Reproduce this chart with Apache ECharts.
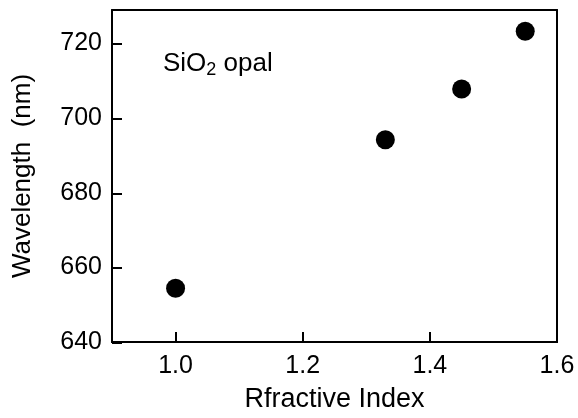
<!DOCTYPE html>
<html>
<head>
<meta charset="utf-8">
<script src="https://cdn.jsdelivr.net/npm/echarts@6/dist/echarts.min.js"></script>
<style>html,body{margin:0;padding:0;background:#fff}#c{width:578px;height:418px}</style>
</head>
<body>
<div id="c"></div>
<script>
var refractiveIndex = [1.0, 1.33, 1.45, 1.55];
var wavelength = [654.4, 694.2, 707.8, 723.3];
var xTicks = [1.0, 1.2, 1.4, 1.6];
var yTicks = [640, 660, 680, 700, 720];

var X_MIN = 0.9, X_MAX = 1.6, Y_MIN = 640, Y_MAX = 729;
var G = {left: 112, top: 10, right: 21, bottom: 75};
var PW = 578 - G.left - G.right, PH = 418 - G.top - G.bottom;
var Y_TICK_LEN = 10;

var chart = echarts.init(document.getElementById('c'), null, {renderer: 'canvas'});
var font = 'Liberation Sans, Arial, sans-serif';
function black2() { return {color: '#000', width: 2}; }
function plainAxis(extra) {
  return Object.assign({
    type: 'value', axisLine: {show: false, onZero: false},
    axisTick: {show: false}, axisLabel: {show: false}, splitLine: {show: false}
  }, extra);
}
chart.setOption({
  animation: false,
  grid: [
    {left: G.left, top: G.top, right: G.right, bottom: G.bottom, show: false},
    // thin strip along the left edge used to draw inward y tick marks
    {left: G.left, top: G.top, right: 578 - G.left - Y_TICK_LEN, bottom: G.bottom, show: false}
  ],
  xAxis: [{
    type: 'value', min: X_MIN, max: X_MAX, interval: 0.1, position: 'bottom',
    name: 'Rfractive Index', nameLocation: 'middle', nameGap: 44,
    nameTextStyle: {fontSize: 27, color: '#000', fontFamily: font},
    axisLine: {show: true, onZero: false, lineStyle: black2()},
    axisTick: {show: false},
    splitLine: {show: false},
    axisLabel: {fontSize: 25, color: '#000', fontFamily: font, margin: 12,
      customValues: xTicks, formatter: function (v) { return v.toFixed(1); }}
  },
  plainAxis({position: 'top', min: X_MIN, max: X_MAX, axisLine: {show: true, onZero: false, lineStyle: black2()}}),
  // inward tick marks on the bottom edge (negated, inverted scale so ticks fall on 1.0, 1.2, 1.4)
  plainAxis({position: 'top', offset: -PH, inverse: true, min: -X_MAX, max: -X_MIN, interval: 0.2,
    axisTick: {show: true, length: 11, lineStyle: black2()}}),
  plainAxis({gridIndex: 1, min: 0, max: 1})
  ],
  yAxis: [{
    type: 'value', min: Y_MIN, max: Y_MAX, interval: 20, position: 'left',
    name: 'Wavelength  (nm)', nameLocation: 'middle', nameGap: 76,
    nameTextStyle: {fontSize: 26, color: '#000', fontFamily: font},
    axisLine: {show: true, onZero: false, lineStyle: black2()},
    axisTick: {show: false},
    splitLine: {show: false},
    axisLabel: {fontSize: 25, color: '#000', fontFamily: font, margin: 10, customValues: yTicks}
  },
  plainAxis({position: 'right', min: Y_MIN, max: Y_MAX, axisLine: {show: true, onZero: false, lineStyle: black2()}}),
  // short split lines in the thin strip act as inward y ticks
  plainAxis({gridIndex: 1, position: 'left', min: Y_MIN, max: Y_MAX, interval: 20,
    splitLine: {show: true, lineStyle: black2()}})
  ],
  graphic: [{
    type: 'text', left: 163, top: 51,
    style: {
      text: '{a|SiO}{b|2}{a| opal}',
      rich: {
        a: {fontSize: 26, fontFamily: font, fill: '#000'},
        b: {fontSize: 18, fontFamily: font, fill: '#000', padding: [12, 0, 0, 0]}
      }
    }
  }],
  series: [{
    type: 'scatter', symbol: 'circle', symbolSize: 19,
    xAxisIndex: 0, yAxisIndex: 0,
    itemStyle: {color: '#000', opacity: 1},
    data: refractiveIndex.map(function (x, i) { return [x, wavelength[i]]; })
  }]
});
</script>
</body>
</html>
